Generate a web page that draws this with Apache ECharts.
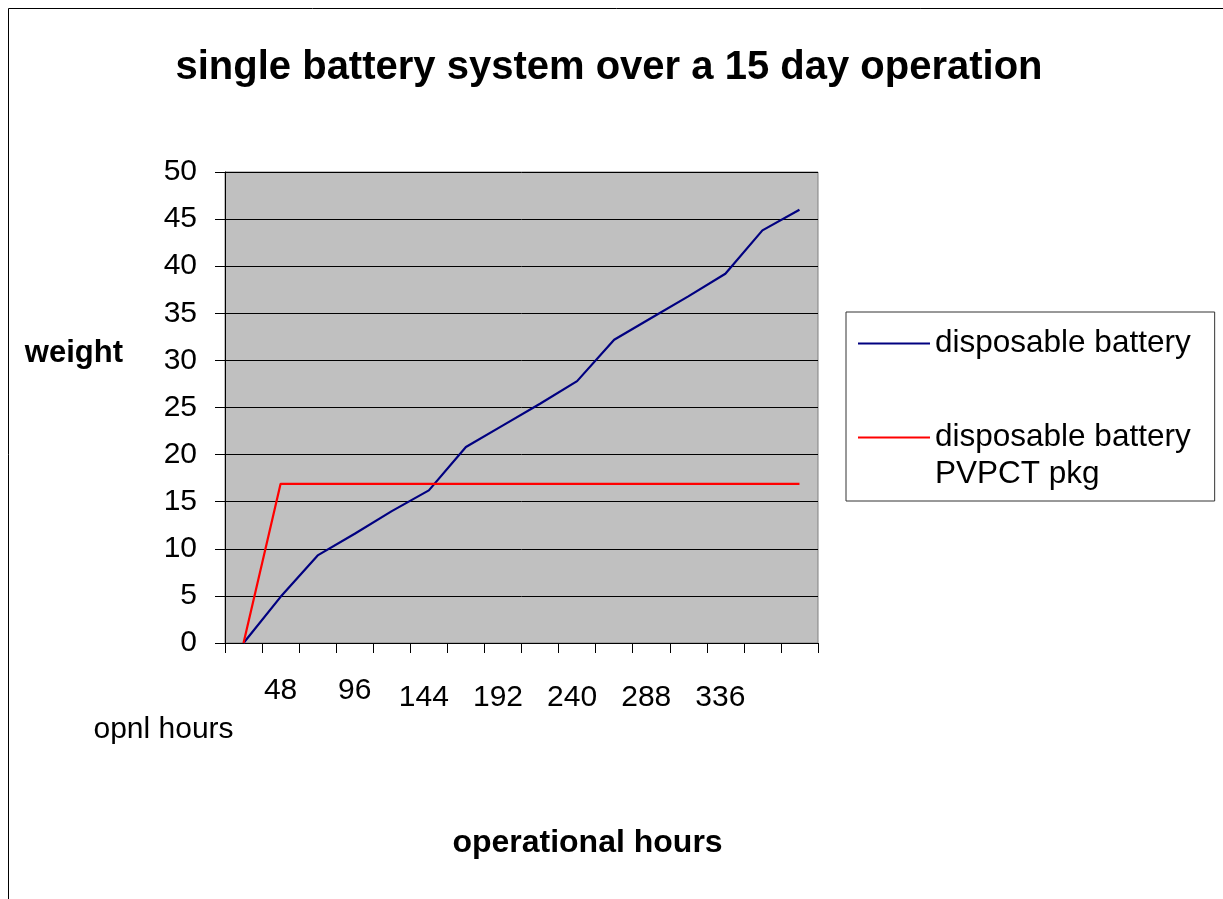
<!DOCTYPE html>
<html>
<head>
<meta charset="utf-8">
<script src="https://cdn.jsdelivr.net/npm/echarts@6/dist/echarts.min.js"></script>
<style>
  html, body { margin: 0; padding: 0; background: #fff; }
  #chart { width: 1223px; height: 899px; }
</style>
</head>
<body>
<div id="chart"></div>
<script>
// category labels (first one is the header cell that Excel picked up)
const hours = ['opnl hours', '48', '72', '96', '120', '144', '168', '192', '216', '240', '264', '288', '312', '336', '360', '384']
const disposable = [0, 4.9, 9.3, 11.6, 14.0, 16.2, 20.8, 23.1, 25.4, 27.8, 32.2, 34.5, 36.8, 39.2, 43.8, 46.0]
const disposablePkg = [0, 16.9, 16.9, 16.9, 16.9, 16.9, 16.9, 16.9, 16.9, 16.9, 16.9, 16.9, 16.9, 16.9, 16.9, 16.9]
const weightMin = 0
const weightMax = 50
const weightStep = 5

const FONT = '"Liberation Sans", Arial, sans-serif'
const nameA = 'disposable battery'
const nameB = 'disposable battery\nPVPCT pkg'

const chart = echarts.init(document.getElementById('chart'))
chart.setOption({
  animation: false,
  backgroundColor: '#fff',
  textStyle: { fontFamily: FONT, color: '#000' },
  graphic: [{
    type: 'rect',
    shape: { x: 8.5, y: 8.5, width: 1240, height: 920 },
    style: { fill: 'none', stroke: '#000', lineWidth: 1 },
    silent: true
  }],
  title: {
    text: 'single battery system over a 15 day operation',
    left: 609, top: 48, textAlign: 'center', padding: 0,
    textStyle: { fontFamily: FONT, fontSize: 40, fontWeight: 'bold', color: '#000' }
  },
  legend: {
    orient: 'vertical',
    left: 846, top: 312,
    padding: [13, 24, 8, 12],
    itemGap: 20,
    itemWidth: 72,
    itemHeight: 2,
    icon: 'rect',
    borderColor: '#333',
    borderWidth: 1,
    selectedMode: false,
    // empty first line keeps the icon level with the first line of the wrapped name
    formatter: (name) => name === nameB ? '\n' + name : name,
    textStyle: { fontFamily: FONT, fontSize: 31.5, color: '#000', lineHeight: 37 },
    data: [nameA, nameB]
  },
  grid: {
    left: 225, top: 172, right: 405, bottom: 256,
    show: true,
    backgroundColor: '#c0c0c0',
    borderColor: '#808080',
    borderWidth: 1,
    outerBoundsMode: 'none'
  },
  xAxis: {
    type: 'category',
    data: hours,
    boundaryGap: true,
    name: 'operational hours',
    nameLocation: 'middle',
    nameGap: 184,
    nameMoveOverlap: false,
    nameTextStyle: { fontFamily: FONT, fontSize: 32, fontWeight: 'bold', color: '#000', padding: [0, 0, 0, 132] },
    axisLine: { lineStyle: { color: '#000', width: 1 } },
    axisTick: { show: true, length: 10, lineStyle: { color: '#000' }, interval: 0 },
    axisLabel: {
      interval: (i) => i === 0 || (i % 2 === 1 && i < 14),
      margin: 33,
      fontFamily: FONT, fontSize: 30, color: '#000',
      formatter: (v, i) => i === 0 ? '{a|' + v + '}' : (v.length > 2 ? '{b|' + v + '}' : v),
      rich: {
        a: { fontFamily: FONT, fontSize: 30, color: '#000', padding: [39, 160, 0, 0] },
        b: { fontFamily: FONT, fontSize: 30, color: '#000', padding: [7, 10, 0, 0] }
      }
    },
    splitLine: { show: false }
  },
  yAxis: {
    type: 'value',
    min: weightMin, max: weightMax, interval: weightStep,
    name: 'weight',
    nameLocation: 'middle',
    nameRotate: 0,
    nameGap: 102,
    nameMoveOverlap: false,
    nameTextStyle: { fontFamily: FONT, fontSize: 31, fontWeight: 'bold', color: '#000', verticalAlign: 'bottom', padding: [0, 0, 39, 0] },
    axisLine: { show: true, lineStyle: { color: '#000', width: 1 } },
    axisTick: { show: true, length: 10, lineStyle: { color: '#000' } },
    axisLabel: { margin: 28, fontFamily: FONT, fontSize: 30, color: '#000' },
    splitLine: { lineStyle: { color: '#000', width: 1 } }
  },
  series: [
    { name: nameA, type: 'line', data: disposable, symbol: 'none', color: '#000080', lineStyle: { color: '#000080', width: 2.2 } },
    { name: nameB, type: 'line', data: disposablePkg, symbol: 'none', color: '#ff0000', lineStyle: { color: '#ff0000', width: 2.2 } }
  ]
})
</script>
</body>
</html>
